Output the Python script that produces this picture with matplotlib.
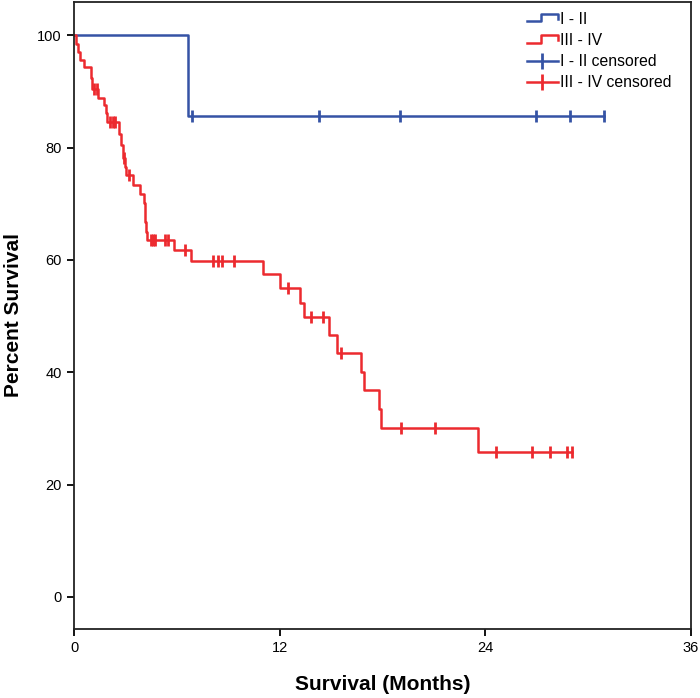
import numpy as np
import matplotlib.pyplot as plt
from matplotlib.lines import Line2D
from matplotlib.legend_handler import HandlerBase

# Kaplan-Meier data (months, percent survival)
blue_t = [0, 6.65]
blue_s = [100, 85.7]
blue_end = 30.9
blue_cens = [6.9, 14.3, 19.0, 26.95, 28.95, 30.9]

red_t = [0, 0.1, 0.2, 0.35, 0.55, 1.0, 1.05, 1.4, 1.75, 1.88, 1.92,
         2.6, 2.75, 2.85, 2.98, 3.02, 3.45, 3.85, 4.05, 4.12, 4.16, 4.2, 4.25,
         5.8, 6.8, 11.0, 12.0, 13.2, 13.4, 14.85, 15.35, 16.75, 16.9,
         17.8, 17.9, 23.55]
red_s = [100, 98.4, 97.0, 95.6, 94.3, 92.4, 90.5, 88.9, 87.6, 86.1, 84.6,
         82.5, 80.4, 78.1, 76.6, 75.1, 73.3, 71.8, 70.1, 68.4, 66.7, 65.0, 63.5,
         61.7, 59.8, 57.5, 55.0, 52.4, 49.8, 46.6, 43.4, 40.1, 36.8,
         33.4, 30.1, 25.8]
red_end = 29.05
red_cens = [1.17, 1.34, 2.1, 2.25, 2.4, 2.88, 3.2, 4.48, 4.6, 4.7, 5.3, 5.45,
            6.45, 8.1, 8.4, 8.6, 9.3, 12.5, 13.85, 14.5, 15.6,
            19.1, 21.05, 24.6, 26.75, 27.8, 28.75, 29.05]

blue = '#3553a5'
red = '#ec2a2f'

plt.rcParams['font.family'] = ['Liberation Sans', 'DejaVu Sans']


def surv_at(times, surv, x):
    idx = np.searchsorted(times, x, side='right') - 1
    return np.array(surv)[idx]


class StepHandler(HandlerBase):
    # SPSS-style step glyph for the survival lines
    def create_artists(self, legend, orig_handle, xd, yd, w, h, fontsize, trans):
        lo, hi = yd + h * 0.2, yd + h * 0.85
        ln = Line2D([xd, xd + w * 0.45, xd + w * 0.45, xd + w, xd + w],
                    [lo, lo, hi, hi, lo + h * 0.2], color=orig_handle.get_color(),
                    lw=orig_handle.get_linewidth(), transform=trans)
        return [ln]


fig = plt.figure(figsize=(7, 6.98), dpi=100)
ax = fig.add_axes([0.106, 0.099, 0.881, 0.898])

lw = 1.8
bx = list(blue_t) + [blue_end]
by = list(blue_s) + [blue_s[-1]]
ax.step(bx, by, where='post', color=blue, lw=lw)
rx = list(red_t) + [red_end]
ry = list(red_s) + [red_s[-1]]
ax.step(rx, ry, where='post', color=red, lw=lw)

ax.plot(blue_cens, surv_at(blue_t, blue_s, blue_cens), ls='none', marker='|',
        ms=8, mew=2, color=blue)
ax.plot(red_cens, surv_at(red_t, red_s, red_cens), ls='none', marker='|',
        ms=8, mew=2, color=red)

ax.set_xlim(0, 36)
ax.set_ylim(-5.7, 105.9)
ax.set_xticks([0, 12, 24, 36])
ax.set_yticks([0, 20, 40, 60, 80, 100])
ax.tick_params(direction='out', length=5, width=1.3, labelsize=10.5,
               top=False, right=False, pad=4)
for s in ax.spines.values():
    s.set_linewidth(1.3)
    s.set_color('#222222')

ax.set_xlabel('Survival (Months)', fontsize=15, fontweight='bold', labelpad=14)
ax.set_ylabel('Percent Survival', fontsize=15, fontweight='bold', labelpad=10)

h1 = Line2D([], [], color=blue, lw=lw)
h2 = Line2D([], [], color=red, lw=lw)
h3 = Line2D([], [], color=blue, lw=lw, marker='|', ms=11, mew=2)
h4 = Line2D([], [], color=red, lw=lw, marker='|', ms=11, mew=2)
ax.legend([h1, h2, h3, h4],
          ['I - II', 'III - IV', 'I - II censored', 'III - IV censored'],
          handler_map={h1: StepHandler(), h2: StepHandler()},
          loc='upper right', bbox_to_anchor=(0.978, 0.995), frameon=False,
          fontsize=11.3, handlelength=2.0, handletextpad=0.1,
          labelspacing=0.4, borderaxespad=0.0)

fig.savefig('out.png', dpi=100)
